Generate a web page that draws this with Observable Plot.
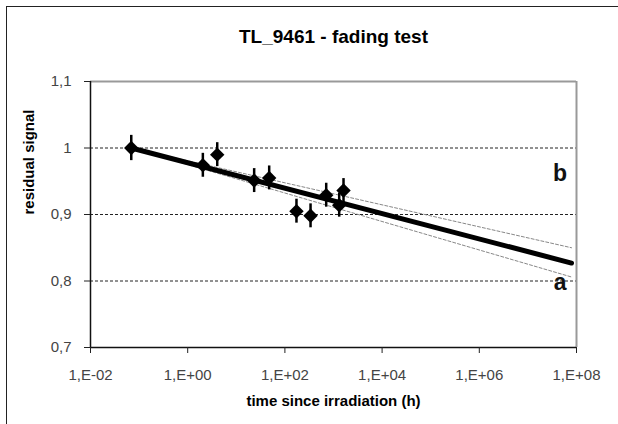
<!DOCTYPE html>
<html>
<head>
<meta charset="utf-8">
<script src="https://cdn.jsdelivr.net/npm/d3@7"></script>
<script src="https://cdn.jsdelivr.net/npm/@observablehq/plot@0.6"></script>
<style>
  html, body { margin: 0; padding: 0; background: #fff; }
  #wrap { position: relative; width: 618px; height: 424px; overflow: hidden; }
  #frame { position: absolute; left: 6px; top: 6px; width: 700px; height: 500px;
           border-left: 1.5px solid #222; border-top: 1.5px solid #222; }
  #chart { position: absolute; left: 0; top: 0; }
  svg { font-family: "Liberation Sans", Arial, sans-serif; }
</style>
</head>
<body>
<div id="wrap"><div id="frame"></div><div id="chart"></div></div>
<script>
// ---- data ----
const titleText = "TL_9461 - fading test";
const xTitle = "time since irradiation (h)";
const yTitle = "residual signal";

const timeH = [0.069, 2.05, 4.05, 23.3, 47.5, 173, 337, 708, 1310, 1607];
const signal = [1.000, 0.974, 0.990, 0.951, 0.955, 0.905, 0.898, 0.929, 0.914, 0.936];
const errBar = [0.019, 0.018, 0.018, 0.018, 0.018, 0.018, 0.018, 0.018, 0.018, 0.018];

const fitX = [0.069, 7.9e7];
const fitMain = [1.000, 0.827];
const fitUpperB = [1.000, 0.850];
const fitLowerA = [1.000, 0.806];

const curveLabels = ["b", "a"];
const curveLabelX = [4.6e7, 4.6e7];
const curveLabelY = [0.961, 0.797];

const xTicks = [1e-2, 1e0, 1e2, 1e4, 1e6, 1e8];
const xTickLabels = ["1,E-02", "1,E+00", "1,E+02", "1,E+04", "1,E+06", "1,E+08"];
const yTicks = [0.7, 0.8, 0.9, 1.0, 1.1];
const yTickLabels = ["0,7", "0,8", "0,9", "1", "1,1"];
const gridY = [0.8, 0.9, 1.0];

// ---- tables ----
const pts = timeH.map((t, i) => ({t, s: signal[i], lo: signal[i] - errBar[i], hi: signal[i] + errBar[i]}));
const mk = (ys) => fitX.map((x, i) => ({x, y: ys[i]}));
const labs = curveLabels.map((l, i) => ({l, x: curveLabelX[i], y: curveLabelY[i]}));

const chart = Plot.plot({
  width: 618,
  height: 424,
  marginLeft: 90,
  marginRight: 42,
  marginTop: 81,
  marginBottom: 77,
  x: {type: "log", domain: [1e-2, 1e8]},
  y: {domain: [0.7, 1.1]},
  marks: [
    Plot.ruleY(gridY, {stroke: "#222", strokeWidth: 1, strokeDasharray: "3,2"}),
    Plot.ruleY([1.1], {stroke: "#999", strokeWidth: 2}),
    Plot.ruleX([1e8], {stroke: "#999", strokeWidth: 2}),
    Plot.line(mk(fitUpperB), {x: "x", y: "y", stroke: "#888", strokeWidth: 1, strokeDasharray: "3,2"}),
    Plot.line(mk(fitLowerA), {x: "x", y: "y", stroke: "#888", strokeWidth: 1, strokeDasharray: "3,2"}),
    Plot.line(mk(fitMain), {x: "x", y: "y", stroke: "#000", strokeWidth: 5}),
    Plot.ruleX(pts, {x: "t", y1: "lo", y2: "hi", stroke: "#000", strokeWidth: 2.5}),
    Plot.dot(pts, {x: "t", y: "s", symbol: "diamond2", r: 6.5, fill: "#000", stroke: "none"}),
    Plot.text(labs, {x: "x", y: "y", text: "l", fontSize: 23, fontWeight: "bold", fill: "#111"}),
    Plot.ruleX([1e-2], {stroke: "#111", strokeWidth: 1.5}),
    Plot.ruleY([0.7], {stroke: "#111", strokeWidth: 1.5}),
    Plot.axisY({ticks: yTicks, tickFormat: (d) => yTickLabels[yTicks.indexOf(d)], tickSize: 6, tickPadding: 13,
      fontSize: 15, fill: "#444", stroke: "#222", label: null}),
    Plot.axisX({ticks: xTicks, tickFormat: (d) => xTickLabels[xTicks.indexOf(d)], tickSize: 6, tickPadding: 16,
      fontSize: 15, fill: "#444", stroke: "#222", label: null}),
    Plot.text([titleText], {frameAnchor: "top", dy: -52, text: d => d, fontSize: 19, fontWeight: "bold", fill: "#000"}),
    Plot.text([xTitle], {frameAnchor: "bottom", dy: 58, text: d => d, fontSize: 15, fontWeight: "bold", fill: "#000"}),
    Plot.text([yTitle], {frameAnchor: "left", dx: -61, rotate: -90, text: d => d, fontSize: 15, fontWeight: "bold", fill: "#000"})
  ]
});
document.getElementById("chart").appendChild(chart);
</script>
</body>
</html>
